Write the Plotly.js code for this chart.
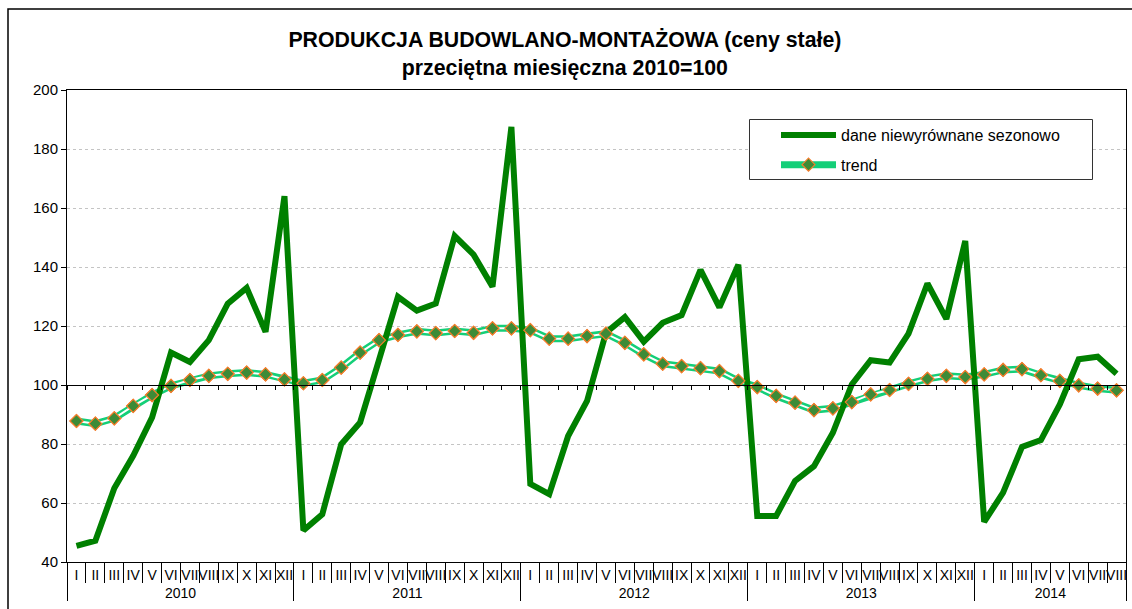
<!DOCTYPE html>
<html>
<head>
<meta charset="utf-8">
<script src="https://cdn.plot.ly/plotly-3.0.1.min.js"></script>
<style>
html,body{margin:0;padding:0;background:#fff;}
#chart{width:1132px;height:609px;}
</style>
</head>
<body>
<div id="chart"></div>
<script>
// ---- data ----
var years = ['2010', '2011', '2012', '2013', '2014'];
var monthsPerYear = [12, 12, 12, 12, 8];
var monthLabels = ['I', 'II', 'III', 'IV', 'V', 'VI', 'VII', 'VIII', 'IX', 'X', 'XI', 'XII'];

var daneNiewyrownane = [
  45.5, 47.2, 65.0, 76.0, 89.0, 111.0, 107.8, 115.2, 127.6, 132.9, 118.0, 164.0,
  50.7, 56.2, 79.9, 87.3, 108.5, 129.9, 125.2, 127.6, 150.5, 144.2, 133.3, 187.5,
  66.5, 63.0, 82.7, 94.6, 117.7, 123.0, 114.7, 121.1, 123.7, 139.0, 126.3, 140.8,
  55.6, 55.6, 67.5, 72.5, 83.8, 100.2, 108.4, 107.6, 117.4, 134.4, 122.4, 148.8,
  53.6, 63.5, 79.0, 81.3, 93.4, 108.7, 109.6, 103.8
];
var trend = [
  87.8, 86.9, 88.7, 92.9, 96.6, 99.7, 101.7, 103.1, 103.8, 104.2, 103.6, 101.9,
  100.6, 101.7, 105.9, 111.0, 115.2, 117.0, 118.2, 117.6, 118.3, 117.7, 119.2, 119.2,
  118.6, 115.7, 115.7, 116.6, 117.4, 114.3, 110.4, 107.2, 106.4, 105.7, 104.7, 101.4,
  99.3, 96.3, 94.0, 91.5, 92.1, 94.2, 96.8, 98.3, 100.4, 102.1, 103.1, 102.7,
  103.6, 105.1, 105.4, 103.3, 101.4, 99.9, 98.8, 98.2
];
var seriesNames = ['dane niewyrównane sezonowo', 'trend'];
var titleText = 'PRODUKCJA BUDOWLANO-MONTAŻOWA (ceny stałe)<br>przeciętna miesięczna 2010=100';

// ---- build multicategory x ----
var xYear = [], xMonth = [];
years.forEach(function (y, i) {
  for (var m = 0; m < monthsPerYear[i]; m++) { xYear.push(y); xMonth.push(monthLabels[m]); }
});
var X = [xYear, xMonth];
var nCat = xMonth.length;

var FONT = 'Liberation Sans, Arial, sans-serif';
var TREND_OUTER = '#14cf78';
var markerStyle = { symbol: 'diamond', size: 10, color: '#3d8b37', line: { color: '#f57d2c', width: 1.2 } };

var traces = [
  { // trend outer line (legend entry)
    x: X, y: trend, type: 'scatter', mode: 'lines+markers', name: seriesNames[1],
    line: { color: TREND_OUTER, width: 7 }, marker: markerStyle,
    legendgroup: 'b', legendrank: 2, hoverinfo: 'skip'
  },
  { // trend inner white line
    x: X, y: trend, type: 'scatter', mode: 'lines',
    line: { color: '#ffffff', width: 2 }, showlegend: false, hoverinfo: 'skip'
  },
  { // unadjusted
    x: X, y: daneNiewyrownane, type: 'scatter', mode: 'lines', name: seriesNames[0],
    line: { color: '#008000', width: 6 }, legendgroup: 'a', legendrank: 1
  },
  { // trend markers on top
    x: X, y: trend, type: 'scatter', mode: 'markers',
    marker: markerStyle, showlegend: false, hoverinfo: 'skip'
  },
  { // empty trace to hold the axis crossing at 100
    x: [], y: [], xaxis: 'x2', yaxis: 'y', type: 'scatter', mode: 'lines',
    showlegend: false, hoverinfo: 'skip'
  }
];

var L = 67, R = 1126, T = 90, B = 562;
var pw = R - L, ph = B - T;
function px2x(p) { return (p - L) / pw; }
function py2y(p) { return (B - p) / ph; }

var layout = {
  width: 1132, height: 609,
  margin: { l: L, r: 1132 - R, t: T, b: 609 - B },
  paper_bgcolor: '#ffffff', plot_bgcolor: '#ffffff',
  font: { family: FONT, color: '#000000' },
  title: {
    text: titleText,
    font: { family: FONT, size: 21.3, color: '#000', weight: 'bold' },
    x: 0.499, xref: 'container', xanchor: 'center',
    y: 1 - 47 / 609, yref: 'container', yanchor: 'middle'
  },
  showlegend: true,
  legend: {
    x: px2x(776), y: py2y(118), xanchor: 'left', yanchor: 'top',
    xref: 'paper', yref: 'paper',
    bgcolor: 'rgba(255,255,255,0)', borderwidth: 0,
    font: { family: FONT, size: 16, color: '#000' },
    itemwidth: 55, traceorder: 'grouped', tracegroupgap: 6
  },
  xaxis: {
    type: 'multicategory',
    range: [-0.5, nCat - 0.5],
    showline: true, linecolor: '#000', linewidth: 1, mirror: true,
    ticks: 'outside', ticklen: 20, tickcolor: '#000', tickwidth: 1,
    tickson: 'boundaries',
    ticklabelstandoff: 0,
    tickangle: 0,
    tickfont: { family: FONT, size: 14, color: '#000' },
    showdividers: true, dividercolor: '#000', dividerwidth: 1,
    showgrid: false, zeroline: false, fixedrange: true
  },
  xaxis2: {
    type: 'linear', overlaying: 'x', anchor: 'free', position: (100 - 40) / 160,
    range: [-0.5, nCat - 0.5], tick0: 0.5, dtick: 1,
    showline: true, linecolor: '#000', linewidth: 1,
    ticks: 'outside', ticklen: 4, tickcolor: '#000',
    showticklabels: false, showgrid: false, zeroline: false, fixedrange: true
  },
  yaxis: {
    range: [40, 200], dtick: 20, tick0: 40,
    showline: true, linecolor: '#000', linewidth: 1, mirror: true,
    ticks: 'outside', ticklen: 5, tickcolor: '#000',
    tickfont: { family: FONT, size: 15, color: '#000' },
    showgrid: true, gridcolor: '#c4c4c4', griddash: 'dot', gridwidth: 1,
    zeroline: false, fixedrange: true
  },
  shapes: [
    { // chart outer frame
      type: 'rect', xref: 'paper', yref: 'paper',
      x0: px2x(8), x1: px2x(1140), y0: py2y(620), y1: py2y(9),
      line: { color: '#000', width: 1.5 }, fillcolor: 'rgba(0,0,0,0)', layer: 'below'
    },
    { // legend frame
      type: 'rect', xref: 'paper', yref: 'paper',
      x0: px2x(749.5), x1: px2x(1092.5), y0: py2y(179.5), y1: py2y(119.5),
      line: { color: '#333', width: 1 }, fillcolor: '#ffffff', layer: 'above'
    }
  ]
};

Plotly.newPlot('chart', traces, layout, { staticPlot: true, displayModeBar: false });
</script>
</body>
</html>
